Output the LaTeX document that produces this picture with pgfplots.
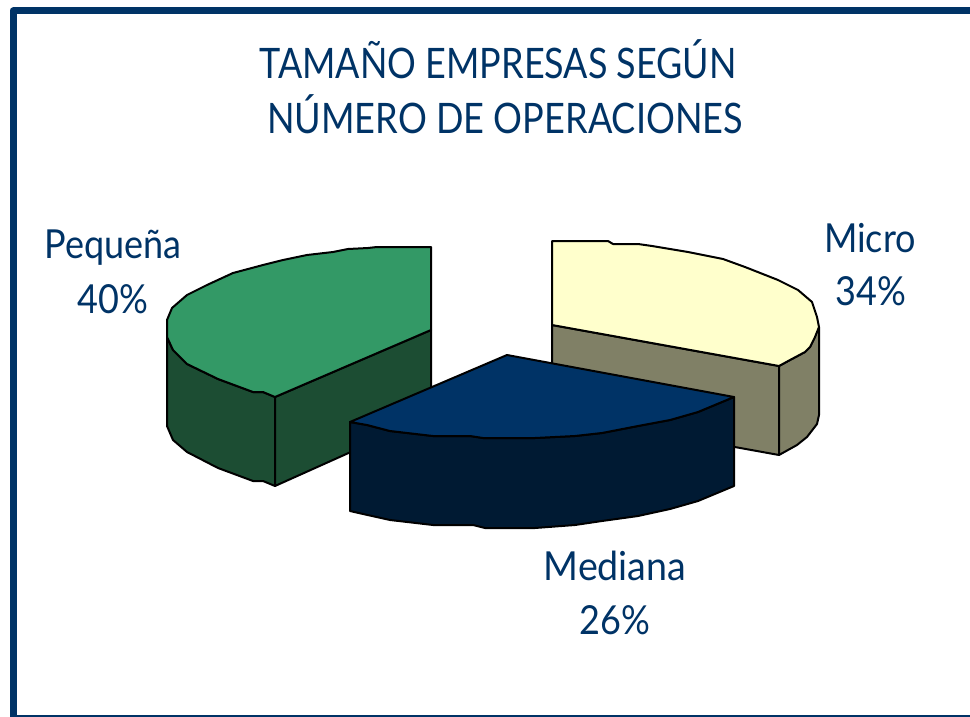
\documentclass[border=0pt]{standalone}
\usepackage{pgfplots}
\pgfplotsset{compat=1.18}
\usepackage{graphicx}
\usepackage{fontspec}
\setmainfont{Lato}
\definecolor{navy}{HTML}{003366}
\definecolor{navyd}{HTML}{001A33}
\definecolor{greent}{HTML}{339966}
\definecolor{greend}{HTML}{1C4D33}
\definecolor{yellt}{HTML}{FFFFCC}
\definecolor{yelld}{HTML}{808066}
\newcommand{\T}[3]{\scalebox{#2}[1]{\fontsize{#1}{#1}\selectfont #3}}
\begin{document}
\begin{tikzpicture}[x=1pt,y=1pt]
\path[use as bounding box] (0,0) rectangle (970,717);
\begin{axis}[at={(0,0)},anchor=south west,scale only axis,width=970pt,height=717pt,
  xmin=0,xmax=970,ymin=0,ymax=717,y dir=reverse,hide axis,clip=true,
  every axis plot/.append style={line join=round,line cap=round}]
% frame
\addplot[navy,line width=7pt,line join=round,forget plot] coordinates {(975,11)(13,11)(13,718)(975,718)};
% Pequena: side
\addplot[draw=black,line width=2pt,fill=greend] coordinates {(167,337)(167,426)(173,440)(187,452)(218,468)(253,481)(263,481)(275,486)(275,397)(263,392)(253,392)(218,379)(187,364)(173,350)} -- cycle;
\addplot[draw=black,line width=2pt,fill=greend] coordinates {(275,397)(275,486)(431,416)(431,330)} -- cycle;
% Pequena: top
\addplot[draw=black,line width=2pt,fill=greent] coordinates {(431,247)(377,247)(368,248)(348,249)(333,252)(307,255)(283,260)(263,265)(233,273)(207,285)(187,295)(172,308)(167,320)(167,337)(173,350)(187,364)(218,379)(253,392)(263,392)(275,397)(431,330)} -- cycle;
% Micro: side
\addplot[draw=black,line width=2pt,fill=yelld] coordinates {(552,325)(779,366)(779,455)(552,414)} -- cycle;
\addplot[draw=black,line width=2pt,fill=yelld] coordinates {(779,366)(779,455)(797,445)(807,437)(817,424)(819,415)(819,327)(810,347)(805,352)(790,360)} -- cycle;
% Micro: top
\addplot[draw=black,line width=2pt,fill=yellt] coordinates {(552,241)(608,241)(613,244)(638,244)(652,246)(688,252)(723,259)(745,267)(778,280)(798,290)(812,302)(817,317)(819,327)(815,337)(810,347)(805,352)(790,360)(779,366)(552,325)} -- cycle;
% Mediana: side
\addplot[draw=black,line width=2pt,fill=navyd] coordinates {(350,422)(350,511)(363,514)(390,520)(433,525)(473,525)(485,528)(535,528)(575,525)(602,521)(638,516)(670,509)(698,501)(734,486)(734,397)(698,412)(670,420)(638,426)(602,433)(575,436)(535,438)(483,438)(470,436)(433,436)(390,431)(367,425)} -- cycle;
% Mediana: top
\addplot[draw=black,line width=2pt,fill=navy] coordinates {(507,355)(734,397)(698,412)(670,420)(638,426)(602,433)(575,436)(535,438)(483,438)(470,436)(433,436)(390,431)(367,425)(350,422)} -- cycle;
% text
\node[anchor=base,text=navy,inner sep=0pt] at (axis cs:498,78) {\T{42}{.856}{TAMAÑO EMPRESAS SEGÚN}};
\node[anchor=base,text=navy,inner sep=0pt] at (axis cs:505,133) {\T{42}{.86}{NÚMERO DE OPERACIONES}};
\node[anchor=base,text=navy,inner sep=0pt] at (axis cs:113,258) {\T{40}{.9}{Pequeña}};
\node[anchor=base,text=navy,inner sep=0pt] at (axis cs:113,313) {\T{40}{.9}{40\%}};
\node[anchor=base,text=navy,inner sep=0pt] at (axis cs:870,252) {\T{40}{.9}{Micro}};
\node[anchor=base,text=navy,inner sep=0pt] at (axis cs:871,305) {\T{40}{.9}{34\%}};
\node[anchor=base,text=navy,inner sep=0pt] at (axis cs:615,580) {\T{40}{.94}{Mediana}};
\node[anchor=base,text=navy,inner sep=0pt] at (axis cs:615,634) {\T{40}{.9}{26\%}};
\end{axis}
\end{tikzpicture}
\end{document}
